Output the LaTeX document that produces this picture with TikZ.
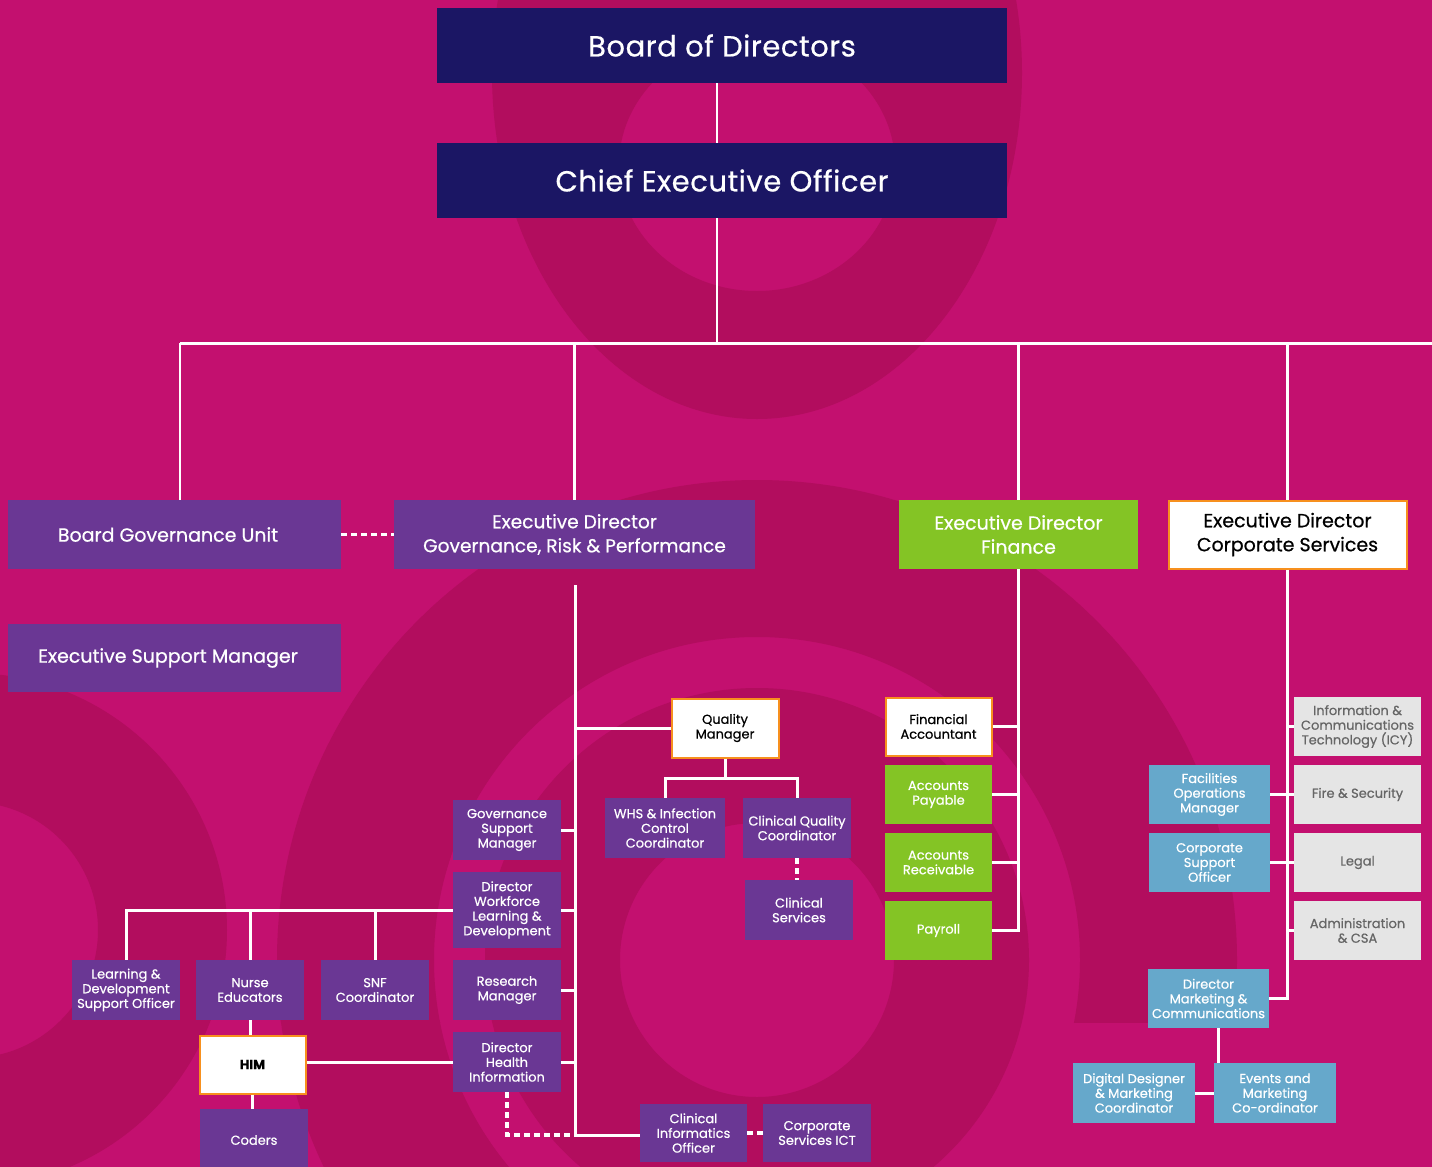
\documentclass[tikz,border=0pt]{standalone}
\usepackage{fontspec}
\setmainfont{Poppins}[FakeBold=0.6]
\newfontfamily\titlefont{Poppins}[FakeBold=0.6, LetterSpace=2]
\usetikzlibrary{calc}
\definecolor{bgc}{HTML}{C3106F}
\definecolor{dk}{HTML}{B20D5E}
\definecolor{navy}{HTML}{1B1664}
\definecolor{purp}{HTML}{6A3794}
\definecolor{grn}{HTML}{84C425}
\definecolor{blu}{HTML}{66A8CB}
\definecolor{gry}{HTML}{E5E5E5}
\definecolor{gtext}{HTML}{666666}
\definecolor{orng}{HTML}{F7901E}
\newcommand\bx[7]{\node[#2, minimum width=#5pt, minimum height=#6pt] (#1) at (#3,#4) {#7};}
\begin{document}
\begin{tikzpicture}[x=1pt,y=-1pt,
  box/.style={rectangle, inner sep=0pt, align=center, font=\fontsize{13}{14.7}\selectfont},
  pbox/.style={box, fill=purp, text=white},
  gbox/.style={box, fill=grn, text=white},
  bbox/.style={box, fill=blu, text=white},
  ybox/.style={box, fill=gry, text=gtext},
  wbox/.style={box, fill=white, draw=orng, line width=2pt, text=black},
  large/.style={font=\fontsize{19}{24}\selectfont},
  title/.style={box, fill=navy, text=white, font=\titlefont\fontsize{29}{32}\selectfont},
  conn/.style={draw=white, line width=3pt},
  tconn/.style={draw=white, line width=2.4pt},
  dotline/.style={draw=white, line width=3.5pt, dash pattern=on 6pt off 4pt},
]
\useasboundingbox (0,0) rectangle (1432,1167);
% background
\begin{scope}
\clip (0,0) rectangle (1432,1167);
\fill[bgc] (0,0) rectangle (1432,1167);
\fill[dk, even odd rule] (757,73) ellipse [x radius=265pt, y radius=346pt]
  (757,165) ellipse [x radius=138pt, y radius=126pt];
\begin{scope}
\clip (0,0) rectangle (1432,1022);
\fill[dk, even odd rule] (757,960) circle [radius=480pt] (757,960) circle [radius=323pt];
\end{scope}
\begin{scope}
\clip (0,1020) rectangle (757,1170);
\fill[dk, even odd rule] (757,960) circle [radius=480pt] (757,960) circle [radius=323pt];
\end{scope}
\fill[dk, even odd rule] (757,960) circle [radius=272pt] (757,960) circle [radius=137pt];
\fill[dk, even odd rule] (-30,930) circle [radius=257pt] (-30,930) circle [radius=128pt];
\end{scope}

% top level
\bx{board}{title}{722}{45.5}{570}{75}{Board of Directors}
\bx{ceo}{title}{722}{180.5}{570}{75}{Chief Executive Officer}
\bx{bgu}{pbox,large}{174.5}{534.5}{333}{69}{Board Governance Unit\hspace*{13pt}}
\bx{edg}{pbox,font=\fontsize{18.6}{24}\selectfont}{574.5}{534.5}{361}{69}{Executive Director\\Governance, Risk \& Performance}
\bx{edf}{gbox,large}{1018.5}{534.5}{239}{69}{Executive Director\\Finance}
\bx{edc}{wbox,large}{1287.5}{534.5}{238}{68}{Executive Director\\Corporate Services}
\bx{esm}{pbox,large}{174.5}{658}{333}{68}{Executive Support Manager\hspace*{13pt}}

% governance branch
\bx{qm}{wbox}{725}{728}{107}{59}{Quality\\Manager}
\bx{whs}{pbox}{665}{828}{120}{60}{WHS \& Infection\\Control\\Coordinator}
\bx{cqc}{pbox}{797}{828}{108}{60}{Clinical Quality\\Coordinator}
\bx{cs}{pbox}{799}{910}{108}{60}{Clinical\\Services}
\bx{gsm}{pbox}{507}{830}{108}{60}{Governance\\Support\\Manager}
\bx{dwld}{pbox}{507}{910}{108}{76}{Director\\Workforce\\Learning \&\\Development}
\bx{rm}{pbox}{507}{990}{108}{60}{Research\\Manager}
\bx{dhi}{pbox}{507}{1062}{108}{60}{Director\\Health\\Information}
\bx{ldso}{pbox}{126}{990}{108}{60}{Learning \&\\Development\\Support Officer}
\bx{ne}{pbox}{250}{990}{108}{60}{Nurse\\Educators}
\bx{snf}{pbox}{375}{990}{108}{60}{SNF\\Coordinator}
\bx{him}{wbox}{252.5}{1064.5}{106}{58}{\bfseries HIM}
\bx{coders}{pbox}{254}{1140}{108}{62}{Coders}
\bx{cio}{pbox}{693.5}{1133}{107}{58}{Clinical\\Informatics\\Officer}
\bx{csict}{pbox}{817}{1133}{108}{58}{Corporate\\Services ICT}

% finance branch
\bx{fa}{wbox}{938.5}{726.5}{106}{58}{Financial\\Accountant}
\bx{ap}{gbox}{938.5}{794.5}{107}{59}{Accounts\\Payable}
\bx{ar}{gbox}{938.5}{862.5}{107}{59}{Accounts\\Receivable}
\bx{pay}{gbox}{938.5}{930.5}{107}{59}{Payroll}

% corporate branch
\bx{ict}{ybox}{1357.5}{726.5}{127}{59}{Information \&\\Communications\\Technology (ICY)}
\bx{fire}{ybox}{1357.5}{794.5}{127}{59}{Fire \& Security}
\bx{legal}{ybox}{1357.5}{862.5}{127}{59}{Legal}
\bx{admin}{ybox}{1357.5}{930.5}{127}{59}{Administration\\\& CSA}
\bx{fom}{bbox}{1209.5}{794.5}{121}{59}{Facilities\\Operations\\Manager}
\bx{cso}{bbox}{1209.5}{862.5}{121}{59}{Corporate\\Support\\Officer}
\bx{dmc}{bbox}{1208.5}{998.5}{121}{59}{Director\\Marketing \&\\Communications}
\bx{dd}{bbox}{1134}{1093}{122}{60}{Digital Designer\\\& Marketing\\Coordinator}
\bx{evt}{bbox}{1275}{1093}{122}{60}{Events and\\Marketing\\Co-ordinator}

% top connectors
\coordinate (j0) at (717,343);
\coordinate (jL) at (180,343);
\coordinate (jR) at (1432,343);
\draw[tconn] (board.south -| j0) -- (ceo.north -| j0);
\draw[tconn] (ceo.south -| j0) -- (j0);
\draw[conn] (jL) -- (jR);
\draw[tconn] (jL) -- (jL |- bgu.north);
\draw[tconn] (edg.north |- j0) -- (edg.north);
\draw[tconn] (edf.north |- j0) -- (edf.north);
\draw[tconn] (edc.north |- j0) -- (edc.north);
\draw[dotline] (bgu.east) -- (edg.west);

% governance spine
\coordinate (g0) at (575,585);
\coordinate (g1) at (575,1135);
\draw[conn] (g0) -- (g1) -- (cio.west |- g1);
\draw[conn] (g0 |- qm.west) -- (qm.west);
\draw[conn] (gsm.east) -- (gsm.east -| g0);
\draw[conn] (dwld.east) -- (dwld.east -| g0);
\draw[conn] (rm.east) -- (rm.east -| g0);
\draw[conn] (dhi.east) -- (dhi.east -| g0);
\draw[conn] (qm.south) -- ++(0,20) coordinate (qj);
\draw[conn] (whs.north) |- (qj) -| (cqc.north);
\draw[dotline] (cqc.south) -- (cqc.south |- cs.north);
\draw[conn] (dwld.west) -- (ldso.north |- dwld.west) -- (ldso.north);
\draw[conn] (ne.north |- dwld.west) -- (ne.north);
\draw[conn] (snf.north |- dwld.west) -- (snf.north);
\draw[conn] (ne.south) -- (ne.south |- him.north);
\draw[conn] (him.south) -- (him.south |- coders.north);
\draw[conn] (dhi.west) -- (him.east |- dhi.west);
\draw[dotline] (dhi.south) -- (dhi.south |- g1) -- (g1);
\draw[dotline] (cio.east) -- (csict.west);

% finance connectors
\draw[conn] (edf.south) -- (edf.south |- pay.east) -- (pay.east);
\draw[conn] (fa.east) -- (fa.east -| edf.south);
\draw[conn] (ap.east) -- (ap.east -| edf.south);
\draw[conn] (ar.east) -- (ar.east -| edf.south);

% corporate connectors
\draw[conn] (edc.south) -- (edc.south |- dmc.east) -- (dmc.east);
\draw[conn] (ict.west) -- (ict.west -| edc.south);
\draw[conn] (fire.west) -- (fire.west -| edc.south);
\draw[conn] (legal.west) -- (legal.west -| edc.south);
\draw[conn] (admin.west) -- (admin.west -| edc.south);
\draw[conn] (fom.east) -- (fom.east -| edc.south);
\draw[conn] (cso.east) -- (cso.east -| edc.south);
\draw[conn] ($(evt.north west)+(5,0)$) coordinate (e1) -- (e1 |- dmc.south);
\draw[conn] (dd.east) -- (evt.west);
\end{tikzpicture}
\end{document}
